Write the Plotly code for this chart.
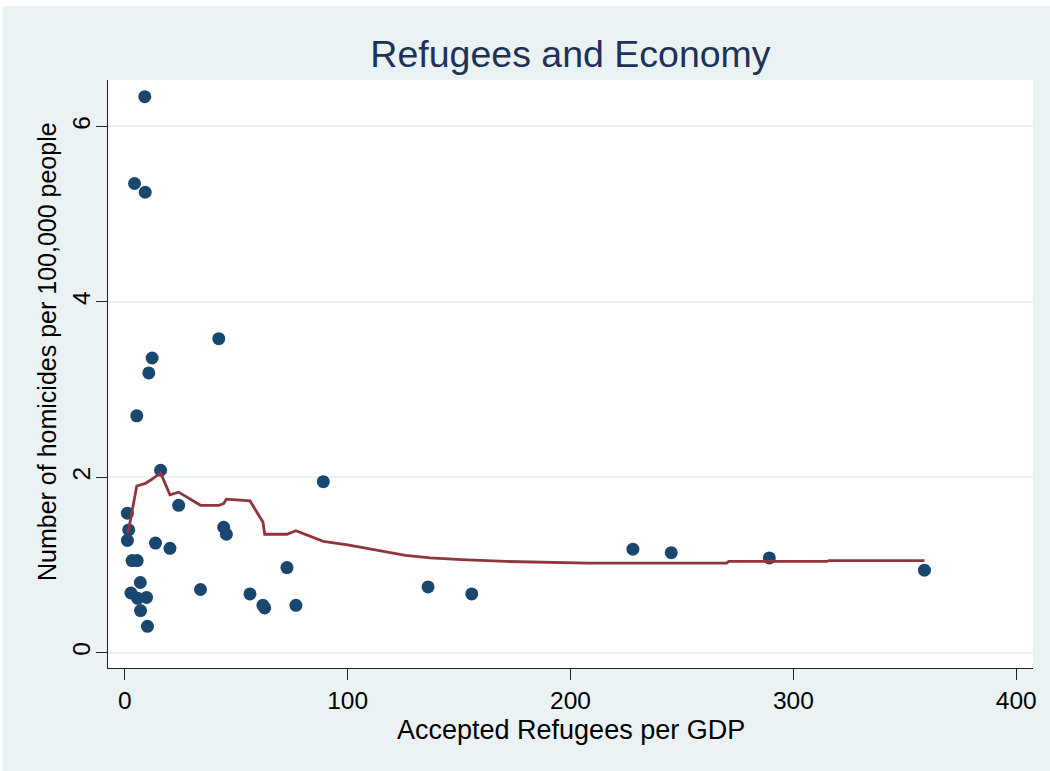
import plotly.graph_objects as go

# Scatter data: accepted refugees per GDP vs homicides per 100,000
refugees = [9.0, 4.4, 9.2, 42.2, 12.3, 10.8, 5.4, 16.1, 89.1, 24.2, 1.2, 1.8, 1.2,
            44.4, 45.6, 13.8, 20.3, 3.3, 5.6, 72.8, 7.0, 2.8, 5.8, 9.8, 7.1, 10.2,
            34.0, 56.2, 62.0, 62.8, 76.8, 136.1, 155.7, 228.0, 245.2, 289.2, 358.8]
homicides = [6.34, 5.35, 5.25, 3.58, 3.36, 3.19, 2.70, 2.08, 1.95, 1.68, 1.59, 1.40, 1.28,
             1.43, 1.35, 1.25, 1.19, 1.05, 1.05, 0.97, 0.80, 0.68, 0.62, 0.63, 0.48, 0.30,
             0.72, 0.67, 0.54, 0.51, 0.54, 0.75, 0.67, 1.18, 1.14, 1.08, 0.94]

# Smoothed (lowess) line
smooth_x = [1.3, 1.9, 5.4, 7.0, 9.3, 12.3, 16.1, 20.3, 24.2, 34.0, 42.2, 44.4, 45.6,
            56.2, 62.0, 62.8, 72.8, 76.8, 89.1, 100.0, 114.0, 126.0, 137.0, 151.0,
            171.0, 208.0, 270.0, 271.0, 315.0, 316.0, 358.8]
smooth_y = [1.36, 1.42, 1.90, 1.91, 1.93, 1.98, 2.05, 1.80, 1.83, 1.68, 1.68, 1.70, 1.75,
            1.73, 1.49, 1.35, 1.35, 1.39, 1.27, 1.23, 1.17, 1.11, 1.08, 1.06,
            1.04, 1.02, 1.02, 1.04, 1.04, 1.05, 1.05]

x_ticks = [0, 100, 200, 300, 400]
y_ticks = [0, 2, 4, 6]

BG = "#eaf2f3"
NAVY = "#1a476f"
MAROON = "#90353b"
FONT = "Liberation Sans, Arial, sans-serif"

fig = go.Figure()
fig.add_trace(go.Scatter(x=refugees, y=homicides, mode="markers",
                         marker=dict(color=NAVY, size=13, line=dict(width=0)),
                         showlegend=False))
fig.add_trace(go.Scatter(x=smooth_x, y=smooth_y, mode="lines",
                         line=dict(color=MAROON, width=2.8),
                         showlegend=False))

fig.update_layout(
    width=1050, height=771,
    margin=dict(l=108, r=17, t=80, b=103),
    paper_bgcolor=BG, plot_bgcolor="white",
    font=dict(family=FONT, color="black"),
    title=dict(text="Refugees and Economy", x=0.5, xref="paper", xanchor="center",
               y=1 - 54/771, yref="container", yanchor="middle",
               font=dict(size=37.5, color="#1e3257", family=FONT)),
    xaxis=dict(range=[-7.5, 407.5], tickvals=x_ticks, showgrid=False, zeroline=False,
               showline=True, linecolor="#222", linewidth=1,
               ticks="outside", ticklen=11, tickcolor="#222", tickwidth=1,
               tickfont=dict(size=24.5, family=FONT, color="black"),
               ticklabelstandoff=0),
    yaxis=dict(range=[-0.175, 6.53], tickvals=y_ticks, showgrid=True, gridcolor=BG,
               gridwidth=1.5, zeroline=False,
               showline=True, linecolor="#222", linewidth=1,
               ticks="outside", ticklen=11, tickcolor="#222", tickwidth=1,
               tickangle=-90,
               tickfont=dict(size=24.5, family=FONT, color="black"),
               ticklabelstandoff=-4),
    annotations=[
        dict(text="Accepted Refugees per GDP", xref="paper", yref="paper",
             x=0.5, y=-(730 - 668) / 588, xanchor="center", yanchor="middle",
             showarrow=False, font=dict(size=27, family=FONT, color="black")),
        dict(text="Number of homicides per 100,000 people", xref="paper", yref="paper",
             x=(47 - 108) / 925, y=(668 - 352) / 588, xanchor="center", yanchor="middle",
             textangle=-90, showarrow=False,
             font=dict(size=25, family=FONT, color="black")),
    ],
    shapes=[
        dict(type="rect", xref="paper", yref="paper", x0=-0.2, x1=1.1,
             y0=1.1259, y1=1.2, fillcolor="white", line=dict(width=0), layer="below"),
        dict(type="rect", xref="paper", yref="paper", x0=-0.2, x1=-0.1142,
             y0=-0.3, y1=1.2, fillcolor="white", line=dict(width=0), layer="below"),
    ],
)

fig.write_html("out.html")
